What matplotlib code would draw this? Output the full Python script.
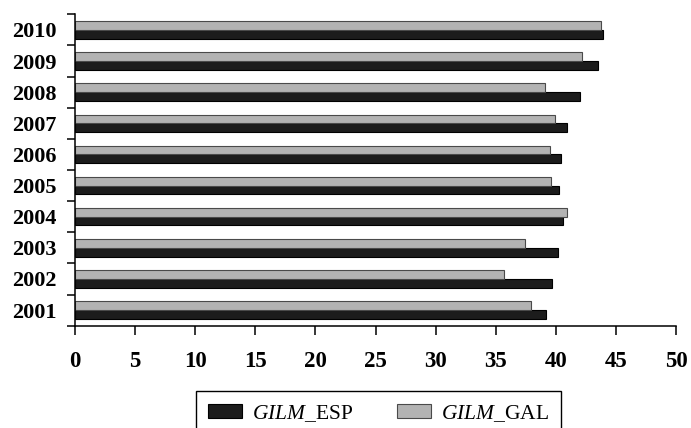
import matplotlib
matplotlib.use("Agg")
import matplotlib.pyplot as plt
import numpy as np

years = ["2001", "2002", "2003", "2004", "2005", "2006", "2007", "2008", "2009", "2010"]
gilm_esp = [39.2, 39.7, 40.2, 40.6, 40.3, 40.4, 40.9, 42.0, 43.5, 43.9]
gilm_gal = [37.9, 35.7, 37.4, 40.9, 39.6, 39.5, 39.9, 39.1, 42.15, 43.8]
xticks = [0, 5, 10, 15, 20, 25, 30, 35, 40, 45, 50]

plt.rcParams['font.family'] = ['Liberation Serif', 'DejaVu Serif']
plt.rcParams['mathtext.fontset'] = 'custom'
plt.rcParams['mathtext.rm'] = 'Liberation Serif'
plt.rcParams['mathtext.it'] = 'Liberation Serif:italic'

fig = plt.figure(figsize=(6.91, 4.28), dpi=100)
ax = fig.add_axes([75/691, 1-325.7/428, (676-75)/691, (325.7-14.3)/428])

y = np.arange(len(years))
h = 0.28
ax.barh(y - h/2, gilm_esp, height=h, color='#1c1c1c', edgecolor='#000000', linewidth=0.8,
        label=r'$\mathit{GILM}$_ESP')
ax.barh(y + h/2, gilm_gal, height=h, color='#b3b3b3', edgecolor='#4a4a4a', linewidth=0.8,
        label=r'$\mathit{GILM}$_GAL')

ax.set_xlim(0, 50)
ax.set_ylim(-0.5, len(years) - 0.5)
ax.set_xticks(xticks)
ax.set_xticklabels([str(v) for v in xticks], fontsize=16.5, fontweight='bold')
ax.set_yticks(np.arange(len(years) + 1) - 0.5)
ax.set_yticklabels([])
ax.set_yticks(y, minor=True)
ax.set_yticklabels(years, minor=True, fontsize=16, fontweight='bold')
ax.tick_params(axis='y', which='minor', length=0, pad=13)
ax.tick_params(axis='y', which='major', length=6, width=1.1, direction='out')
ax.tick_params(axis='x', which='major', length=6.5, width=1.1, direction='out', pad=12)

for s in ['top', 'right']:
    ax.spines[s].set_visible(False)
for s in ['left', 'bottom']:
    ax.spines[s].set_linewidth(1.1)

leg = ax.legend(loc='upper center', bbox_to_anchor=(378.5/691, 1-391/428),
                bbox_transform=fig.transFigure, ncol=2, fontsize=15.5,
                frameon=True, fancybox=False, edgecolor='black', framealpha=1,
                handlelength=1.58, handleheight=0.6, handletextpad=0.47,
                columnspacing=2.05, borderpad=0.55, borderaxespad=0)
leg.get_frame().set_linewidth(1.0)

fig.savefig('out.png', dpi=100)
